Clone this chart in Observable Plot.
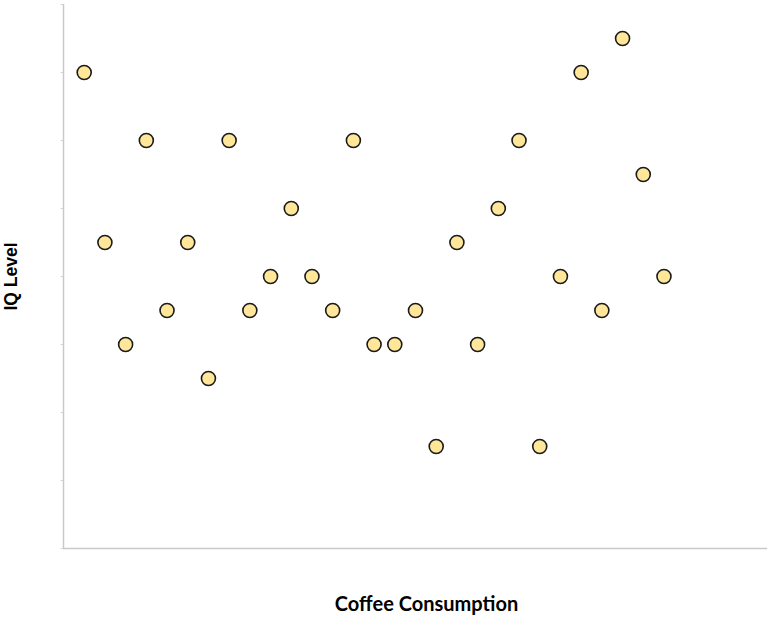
<!DOCTYPE html>
<html>
<head>
<meta charset="utf-8">
<script src="https://cdn.jsdelivr.net/npm/d3@7"></script>
<script src="https://cdn.jsdelivr.net/npm/@observablehq/plot@0.6"></script>
<style>
  html, body { margin: 0; padding: 0; background: #fff; }
  #chart { width: 768px; height: 623px; }
</style>
</head>
<body>
<div id="chart"></div>
<script>
const coffee = [1,2,3,4,5,6,7,8,9,10,11,12,13,14,15,16,17,18,19,20,21,22,23,24,25,26,27,28,29];
const iq = [140,90,60,120,70,90,50,120,70,80,100,80,70,120,60,60,70,30,90,60,100,120,30,80,140,70,150,110,80];
const yTicks = [0,20,40,60,80,100,120,140,160];
const xTitle = "Coffee Consumption";
const yTitle = "IQ Level";

const data = coffee.map((c, i) => ({coffee: c, iq: iq[i]}));

const chart = Plot.plot({
  width: 768,
  height: 623,
  marginLeft: 63,
  marginRight: 1,
  marginTop: 4,
  marginBottom: 75,
  style: {background: "#fff", overflow: "visible"},
  x: {domain: [0, 34], axis: null},
  y: {domain: [0, 160], axis: null},
  marks: [
    Plot.ruleY(yTicks, {y: d => d, x1: -0.12, x2: 0, stroke: "#d9d9d9", strokeWidth: 1}),
    Plot.ruleX([0], {stroke: "#c9c9c9", strokeWidth: 1.5}),
    Plot.ruleY([0], {stroke: "#c9c9c9", strokeWidth: 1.5}),
    Plot.dot(data, {x: "coffee", y: "iq", r: 7, fill: "#FFE699", stroke: "#1a1a1a", strokeWidth: 1.6}),
    Plot.text([xTitle], {text: d => d, frameAnchor: "bottom", dy: 56, dx: 11, lineAnchor: "middle", textAnchor: "middle",
      fontFamily: "Lato, 'Open Sans', sans-serif", fontWeight: "bold", fontSize: 20, fill: "#000"}),
    Plot.text([yTitle], {text: d => d, frameAnchor: "left", dx: -52, rotate: -90, lineAnchor: "middle", textAnchor: "middle",
      fontFamily: "Liberation Sans", fontWeight: "bold", fontSize: 17.5, fill: "#000"})
  ]
});
document.getElementById("chart").appendChild(chart);
</script>
</body>
</html>
